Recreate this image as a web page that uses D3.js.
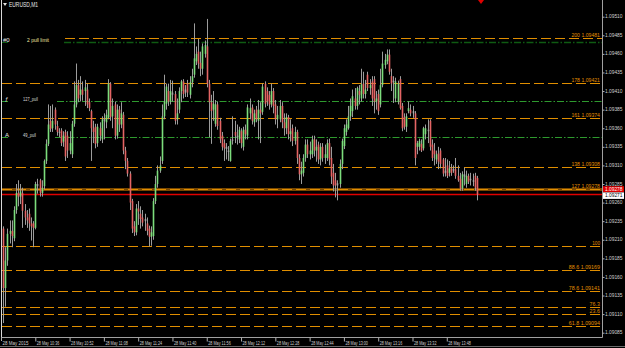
<!DOCTYPE html>
<html>
<head>
<meta charset="utf-8">
<script src="https://cdn.jsdelivr.net/npm/d3@7/dist/d3.min.js"></script>
<style>
  body { margin: 0; background: #000; }
  svg { display: block; font-family: "Liberation Sans", Arial, sans-serif; }
</style>
</head>
<body>
<svg id="chart" width="625" height="348"></svg>
<script>
// EURUSD M1, 28 May 2015, one bar per minute from 10:21
// prices are in points (0.00001) above 1.09000
var open = [
  225,145,182,218,222,212,250,273,268,273, 249,240,245,232,232,226,285,290,273,282,
  316,339,370,360,385,363,355,357,342,355, 350,330,325,366,392,418,405,412,410,412,
  395,383,360,362,340,360,345,372,368,374, 420,376,392,350,385,365,378,330,316,299,
  262,228,220,252,245,240,235,232,225,214, 215,262,285,303,316,376,393,410,396,408,
  406,372,385,410,423,408,420,405,422,432, 450,463,448,440,460,470,420,395,385,366,
  392,370,350,340,335,330,316,343,355,350, 345,356,335,358,350,380,388,368,385,370,
  385,382,420,410,405,392,410,392,372,372, 390,368,360,375,352,360,343,355,320,298,
  300,320,338,325,325,345,330,338,318,335, 320,320,340,320,300,290,283,285,312,336,
  355,360,376,383,400,390,410,400,420,406, 432,414,423,426,396,406,392,418,445,450,
  459,430,422,400,396,426,390,375,362,383, 385,383,380,335,335,339,333,352,358,370,
  338,330,318,326,330,318,300,310,300,306, 305,305,296,292,279,298,285,296,290,290,
  296,293
];
var high = [
  228,200,225,236,236,255,285,290,285,280, 258,250,252,240,235,288,292,292,290,318,
  345,392,390,392,388,370,360,360,356,358, 356,356,370,423,447,425,430,423,425,420,
  400,385,370,366,366,368,376,380,385,426, 422,400,396,392,390,395,382,335,320,302,
  265,235,258,262,255,250,245,240,229,228, 266,296,310,322,392,432,420,420,425,424,
  410,400,415,425,426,418,425,430,440,501, 470,480,463,474,478,507,425,405,410,398,
  396,374,355,345,340,336,346,376,370,365, 362,360,362,365,392,400,392,385,390,398,
  395,420,423,415,410,420,414,398,390,398, 395,380,380,378,372,365,362,358,325,315,
  325,345,345,342,350,350,345,342,340,340, 338,345,346,335,312,300,290,318,346,365,
  372,390,400,412,414,416,418,440,436,425, 436,426,430,430,410,412,440,463,460,466,
  466,440,430,428,424,430,394,380,380,396, 392,390,383,343,346,345,362,365,372,372,
  345,340,330,335,333,320,320,318,316,312, 310,320,310,300,302,307,303,299,300,299,
  300,296
];
var low = [
  98,120,175,205,200,208,245,255,258,226, 230,226,222,209,200,224,272,268,268,278,
  312,336,355,355,358,350,348,336,335,316, 320,325,320,362,388,395,396,397,390,387,
  383,316,340,333,335,343,340,345,360,372, 370,360,345,346,355,360,325,305,295,250,
  219,215,216,230,225,228,222,216,201,202, 210,258,280,300,312,372,385,390,392,396,
  365,365,380,395,400,402,402,400,415,428, 445,440,430,432,455,415,348,339,370,362,
  358,340,330,316,318,316,315,338,340,338, 340,333,330,345,345,372,365,362,368,345,
  340,378,388,390,385,388,380,365,360,368, 360,350,352,345,342,336,338,312,290,285,
  295,315,320,318,320,322,315,312,310,315, 312,316,310,285,275,267,263,280,305,332,
  350,358,370,375,385,385,392,396,400,400, 410,405,390,380,385,378,388,415,440,446,
  432,410,394,395,392,385,356,358,355,380, 376,374,310,325,330,328,330,345,340,330,
  316,310,312,305,306,295,295,293,295,296, 300,292,288,276,276,283,280,285,283,282,
  276,263
];
var close = [
  145,182,218,222,215,250,273,268,275,249, 240,236,232,228,226,285,282,273,280,316,
  339,365,359,370,365,355,355,340,350,322, 330,340,366,392,418,400,412,405,415,392,
  387,360,355,339,362,350,372,370,378,420, 375,390,350,385,365,380,330,316,299,260,
  225,220,252,248,238,233,238,222,214,220, 262,285,303,310,376,396,416,396,410,405,
  370,380,410,423,406,412,408,422,430,454, 460,447,440,470,472,420,395,383,393,392,
  363,345,335,333,332,328,343,345,350,348, 358,340,358,352,388,387,370,380,372,385,
  380,416,393,396,392,410,390,372,378,390, 368,360,375,352,356,343,355,320,298,303,
  320,338,325,330,345,330,335,318,335,320, 325,340,318,295,283,283,286,312,343,360,
  365,376,390,403,390,414,405,419,406,412, 414,418,400,396,400,383,418,447,452,459,
  436,420,424,423,420,387,360,362,376,387, 380,380,320,340,343,330,360,360,356,335,
  320,325,325,315,312,299,303,296,306,300, 303,296,290,279,298,295,296,288,292,288,
  280,271
];

var priceTicks = [1.09085, 1.09110, 1.09135, 1.09160, 1.09185, 1.09210, 1.09235, 1.09260, 1.09285,
  1.09310, 1.09335, 1.09360, 1.09385, 1.09410, 1.09435, 1.09460, 1.09485, 1.09510];
var timeTicks = ["10:36", "10:52", "11:08", "11:24", "11:40", "11:56", "12:12",
  "12:28", "12:44", "13:00", "13:16", "13:32", "13:48"];

// fibo levels (orange dashed)
var fibNames = ["200", "178", "161", "138", "127", "100", "88.6", "78.6", "76.3", "23.6", "61.8"];
var fibPrices = [1.09481, 1.09421, 1.09374, 1.09308, 1.09278, 1.09202, 1.09169, 1.09141, 1.09119, 1.09110, 1.09094];
var fibShowPrice = [true, true, true, true, true, false, true, true, false, false, true];

// pull lines (green dash-dot) with their left labels
var pullNames = ["2 pull limit", "127_pull", "49_pull"];
var pullPrices = [1.09476, 1.09397, 1.09348];
var pullMarks = ["#0", "\u0192", "A"];

var bidPrice = 1.09271;
var linePrice = 1.09278;

var svg = d3.select("#chart"),
  margin = { left: 2, right: 602, top: 0, bottom: 337 };

svg.append("rect").attr("width", 625).attr("height", 348).attr("fill", "#000");

var t0 = new Date(2015, 4, 28, 10, 21);
var bars = open.map(function (o, i) {
  return {
    date: new Date(t0.getTime() + i * 60000),
    o: 1.09 + o / 1e5,
    h: 1.09 + high[i] / 1e5,
    l: 1.09 + low[i] / 1e5,
    c: 1.09 + close[i] / 1e5,
  };
});

var x = d3
  .scaleTime()
  .domain([t0, bars[bars.length - 1].date])
  .range([3.15, 476.8]);

var y = d3.scaleLinear().domain([1.09085, 1.09510]).range([332.7, 16.7]);

var parseTime = d3.timeParse("%Y-%m-%d %H:%M"),
  formatTime = d3.timeFormat("%H:%M"),
  formatPrice = d3.format(".5f");

// frame
svg.append("line").attr("x1", 1.5).attr("x2", 1.5).attr("y1", 0).attr("y2", margin.bottom)
  .attr("stroke", "#d8d8d8").attr("stroke-width", 1);
svg.append("line").attr("x1", margin.right + 0.5).attr("x2", margin.right + 0.5).attr("y1", 0).attr("y2", margin.bottom + 0.5)
  .attr("stroke", "#a0a0a0");
svg.append("line").attr("x1", 1).attr("x2", margin.right + 0.5).attr("y1", margin.bottom + 0.5).attr("y2", margin.bottom + 0.5)
  .attr("stroke", "#a0a0a0");
svg.append("line").attr("x1", 0).attr("x2", 625).attr("y1", 346.5).attr("y2", 346.5)
  .attr("stroke", "#6a6a6a");

// green pull lines
var pullColors = ["#0f5a12", "#2e9a2e", "#2e9a2e"];
var pullStart = [64, 57, 55];
var pullWidth = [22, 15, 13];
pullPrices.forEach(function (p, i) {
  var yy = Math.round(y(p)) + 0.5;
  svg.append("line")
    .attr("x1", pullStart[i]).attr("x2", margin.right)
    .attr("y1", yy).attr("y2", yy)
    .attr("stroke", pullColors[i])
    .attr("stroke-width", i === 0 ? 1.5 : 1)
    .attr("stroke-dasharray", "7,2,1.5,2");
  svg.append("line")
    .attr("x1", 2).attr("x2", 8)
    .attr("y1", yy).attr("y2", yy)
    .attr("stroke", pullColors[i]);
  svg.append("text")
    .attr("x", i === 0 ? 3 : 5)
    .attr("y", yy - 1)
    .attr("font-size", 6)
    .attr("fill", "#e8e8e8")
    .text(pullMarks[i]);
  svg.append("text")
    .attr("x", i === 0 ? 27 : 23)
    .attr("y", yy - 1)
    .attr("font-size", 6)
    .attr("textLength", pullWidth[i])
    .attr("lengthAdjust", "spacingAndGlyphs")
    .attr("fill", i === 0 ? "#f0e8a0" : "#d8d8d8")
    .text(pullNames[i]);
});

// fibo lines
var orange = "#e08e00";
fibPrices.forEach(function (p, i) {
  var yy = Math.round(y(p)) + 0.5;
  var label = fibShowPrice[i] ? fibNames[i] + " " + formatPrice(p) : fibNames[i];
  if (fibNames[i] === "127") {
    svg.append("line").attr("x1", 2).attr("x2", margin.right)
      .attr("y1", yy).attr("y2", yy)
      .attr("stroke", "#7a4800").attr("stroke-width", 3);
  }
  svg.append("line")
    .attr("x1", i === 0 ? 65 : 2).attr("x2", margin.right)
    .attr("y1", yy).attr("y2", yy)
    .attr("stroke", orange)
    .attr("stroke-width", 1)
    .attr("stroke-dasharray", "10,4");
  svg.append("text")
    .attr("x", 600)
    .attr("y", yy - 2)
    .attr("text-anchor", "end")
    .attr("font-size", 6)
    .attr("textLength", label.length * 2.6)
    .attr("lengthAdjust", "spacingAndGlyphs")
    .attr("fill", orange)
    .text(label);
});

// bid line
svg.append("line")
  .attr("x1", 2).attr("x2", margin.right)
  .attr("y1", y(bidPrice)).attr("y2", y(bidPrice))
  .attr("stroke", "#e00000").attr("stroke-width", 1.5);

// candles
var candle = svg.append("g").attr("class", "candles")
  .selectAll("g").data(bars).enter().append("g");

candle.append("line")
  .attr("x1", (d) => Math.round(x(d.date)) + 0.5)
  .attr("x2", (d) => Math.round(x(d.date)) + 0.5)
  .attr("y1", (d) => y(d.h))
  .attr("y2", (d) => y(d.l))
  .attr("stroke", "#9c9c9c")
  .attr("stroke-width", 1);

candle.append("rect")
  .attr("x", (d) => Math.round(x(d.date)) - 0.3)
  .attr("width", 1.6)
  .attr("y", (d) => y(Math.max(d.o, d.c)))
  .attr("height", (d) => Math.max(1, Math.abs(y(d.o) - y(d.c))))
  .attr("fill", function (d) {
    if (Math.abs(d.o - d.c) < 0.00004) return "#a8a8a8";
    return d.c > d.o ? "#7cdc7c" : "#e46464";
  });

// price axis
var yAxis = svg.append("g")
  .attr("transform", "translate(" + (margin.right + 0.5) + ",0)")
  .call(d3.axisRight(y).tickValues(priceTicks).tickSize(2).tickFormat(formatPrice));
yAxis.select(".domain").remove();
yAxis.selectAll("line").attr("stroke", "#b0b0b0");
yAxis.selectAll("text")
  .attr("x", 2.5)
  .attr("dy", "0.2em")
  .attr("font-size", 5.5)
  .attr("textLength", 17.5)
  .attr("lengthAdjust", "spacingAndGlyphs")
  .attr("font-family", "Liberation Sans, Arial, sans-serif")
  .attr("fill", "#d0d0d0");

// price boxes on the axis
svg.append("rect").attr("x", 603).attr("y", y(linePrice) - 3).attr("width", 21).attr("height", 6)
  .attr("fill", "#e00000");
svg.append("text").attr("x", 605).attr("y", y(linePrice) + 1.8).attr("font-size", 5.5)
  .attr("textLength", 17.5).attr("lengthAdjust", "spacingAndGlyphs")
  .attr("fill", "#fff").text(formatPrice(linePrice));
svg.append("rect").attr("x", 603).attr("y", y(bidPrice) - 2).attr("width", 21).attr("height", 6.5)
  .attr("fill", "#ffffff");
svg.append("text").attr("x", 605).attr("y", y(bidPrice) + 3).attr("font-size", 5.5)
  .attr("textLength", 17.5).attr("lengthAdjust", "spacingAndGlyphs")
  .attr("fill", "#000").text(formatPrice(bidPrice));

// time axis
var tickDates = timeTicks.map((t) => parseTime("2015-05-28 " + t));
var xAxis = svg.append("g")
  .attr("transform", "translate(0," + (margin.bottom + 0.5) + ")")
  .call(d3.axisBottom(x).tickValues(tickDates).tickSize(4).tickFormat((d) => "28 May " + formatTime(d)));
xAxis.select(".domain").remove();
xAxis.selectAll("line").attr("stroke", "#b0b0b0");
xAxis.selectAll("text")
  .attr("text-anchor", "start")
  .attr("x", 1)
  .attr("y", 3)
  .attr("font-size", 6)
  .attr("textLength", 22.5)
  .attr("lengthAdjust", "spacingAndGlyphs")
  .attr("font-family", "Liberation Sans, Arial, sans-serif")
  .attr("fill", "#d0d0d0");

svg.append("line").attr("x1", 1.5).attr("x2", 1.5).attr("y1", margin.bottom).attr("y2", margin.bottom + 4)
  .attr("stroke", "#b0b0b0");
svg.append("text").attr("x", 2.5).attr("y", margin.bottom + 7.8).attr("font-size", 6)
  .attr("textLength", 26).attr("lengthAdjust", "spacingAndGlyphs")
  .attr("fill", "#d0d0d0").text("28 May 2015");

// header
svg.append("path").attr("d", "M3,3 L7,3 L5,6 Z").attr("fill", "#e0e0e0");
svg.append("text").attr("x", 9).attr("y", 7).attr("font-size", 6.5)
  .attr("textLength", 29).attr("lengthAdjust", "spacingAndGlyphs")
  .attr("fill", "#e8e8e8").text("EURUSD,M1");

// chart shift marker
svg.append("path").attr("d", "M478,0 L484,0 L481,4 Z").attr("fill", "#e00000");
</script>
</body>
</html>
